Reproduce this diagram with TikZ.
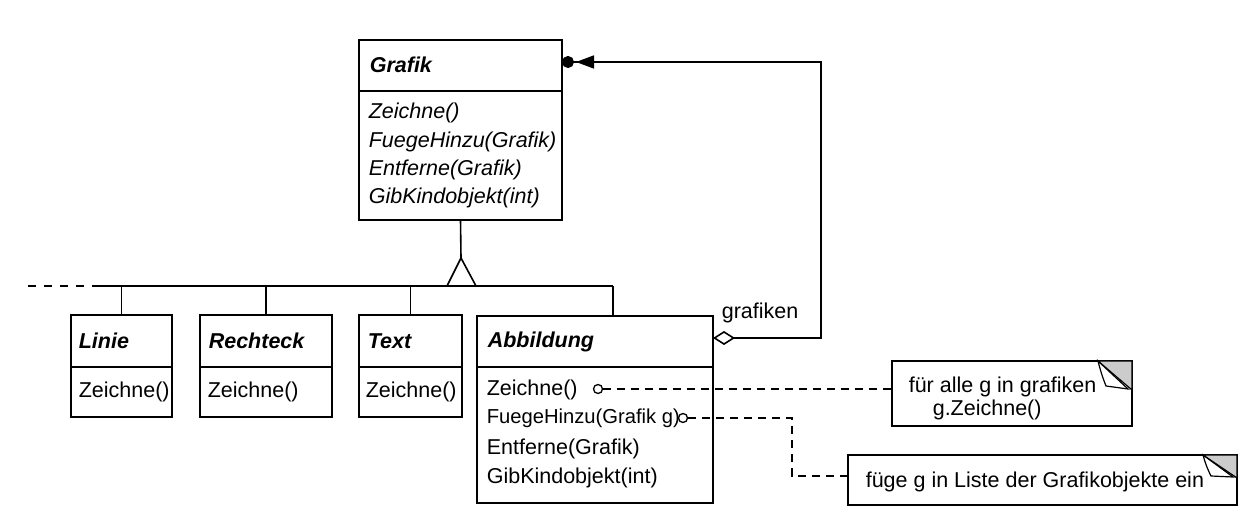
\documentclass[tikz,border=0pt]{standalone}
\usepackage{fontspec}
\setmainfont{Liberation Sans}
\usetikzlibrary{arrows.meta}
\begin{document}
\begin{tikzpicture}[x=1pt,y=-1pt, line width=1.6pt,
 cls/.style={draw, anchor=north west, inner sep=0pt, outer sep=0pt},
 txt/.style={anchor=west, inner sep=0pt, font=\fontsize{21.5}{26}\selectfont},
 ntxt/.style={anchor=west, inner sep=0pt, font=\fontsize{20.2}{26}\selectfont},
 ttl/.style={anchor=west, inner sep=0pt, font=\fontsize{21.5}{26}\selectfont\bfseries\itshape},
 itxt/.style={anchor=west, inner sep=0pt, font=\fontsize{21.5}{26}\selectfont\itshape},
 notebox/.style={draw, anchor=north west, inner sep=0pt, outer sep=0pt},
 dsh/.style={dash pattern=on 8pt off 6pt, line width=1.4pt},
 pin/.style={circle, draw, fill=white, inner sep=0pt, minimum size=9pt, line width=1.3pt},
 ear/.style={fill=black!20, draw, line width=1.2pt},
 flap/.style={fill=white, draw, line width=1.2pt}]
\useasboundingbox (0,0) rectangle (1254,526);

% class boxes
\node[cls, minimum width=203pt, minimum height=180pt] (grafik) at (359,40) {};
\node[cls, minimum width=101pt, minimum height=102pt] (linie) at (71,315) {};
\node[cls, minimum width=132pt, minimum height=102pt] (rechteck) at (200,315) {};
\node[cls, minimum width=103pt, minimum height=102pt] (textc) at (359,315) {};
\node[cls, minimum width=236pt, minimum height=187pt] (abb) at (477,316) {};

% separators
\draw (grafik.west |- 0,91) -- (grafik.east |- 0,91);
\draw (linie.west |- 0,367) -- (linie.east |- 0,367);
\draw (rechteck.west |- 0,367) -- (rechteck.east |- 0,367);
\draw (textc.west |- 0,367) -- (textc.east |- 0,367);
\draw (abb.west |- 0,367) -- (abb.east |- 0,367);

% titles
\node[ttl] (tgrafik) at (369,65) {Grafik};
\node[ttl] (tlinie) at (78,341) {Linie};
\node[ttl] (trechteck) at (208,341) {Rechteck};
\node[ttl] (ttext) at (367,341) {Text};
\node[ttl] (tabb) at (487,342) {Abbildung};

% methods
\node[itxt] (g1) at (368,113) {Zeichne()};
\node[itxt] (g2) at (368,142) {FuegeHinzu(Grafik)};
\node[itxt] (g3) at (368,170) {Entferne(Grafik)};
\node[itxt] (g4) at (368,198) {GibKindobjekt(int)};
\node[txt] (l1) at (78,392) {Zeichne()};
\node[txt] (r1) at (207,392) {Zeichne()};
\node[txt] (x1) at (365,392) {Zeichne()};
\node[txt] (a1) at (486,390) {Zeichne()};
\node[ntxt] (a2) at (486,418) {FuegeHinzu(Grafik g)};
\node[txt] (a3) at (486,449) {Entferne(Grafik)};
\node[txt] (a4) at (486,478) {GibKindobjekt(int)};

% inheritance
\coordinate (apex) at (461,258);
\coordinate (triL) at (447,286);
\coordinate (triR) at (476,286);
\coordinate (busL) at (100,286);
\coordinate (busD) at (28,286);
\coordinate (busR) at (613,286);
\draw (grafik.south) -- (apex);
\draw[line join=miter] (apex) -- (triL) -- (triR) -- cycle;
\draw (busL) -- (busR);
\draw[dash pattern=on 8pt off 8pt, line width=1.4pt] (busD) -- (busL);
\draw (linie.north |- busL) -- (linie.north);
\draw (rechteck.north |- busL) -- (rechteck.north);
\draw (textc.north |- busL) -- (textc.north);
\draw (busR) -- (abb.north -| busR);

% association grafiken
\coordinate (c1) at (821,338);
\coordinate (c2) at (821,62);
\draw[{Diamond[open,length=22pt,width=14pt]}-{Triangle[length=18pt,width=13pt,sep=2pt] Circle[length=12pt]}]
  (abb.east |- c1) -- (c1) -- (c2) -- (grafik.east |- c2);
\node[txt] (lbl) at (721,313) {grafiken};

% notes
\node[notebox, minimum width=240pt, minimum height=65pt] (n1) at (892,361) {};
\node[notebox, minimum width=389pt, minimum height=50pt] (n2) at (848,455) {};
\node[txt] (n1a) at (908,387) {für alle g in grafiken};
\node[txt] (n1b) at (932,410) {g.Zeichne()};
\node[txt] (n2a) at (865,482) {füge g in Liste der Grafikobjekte ein};

% dog ears
\draw[ear] (1098,361) -- (n1.north east) -- (1132,390) -- cycle;
\draw[flap] (1098,361) .. controls (1101,373) and (1104,381) .. (1106,386) -- (1128,389) -- cycle;
\draw[ear] (1203,455) -- (n2.north east) -- (1237,478) -- cycle;
\draw[flap] (1203,455) .. controls (1206,466) and (1209,472) .. (1211,476) -- (1233,477) -- cycle;

% note links
\node[pin] (p1) at (598,389) {};
\node[pin] (p2) at (683,418) {};
\coordinate (k1) at (792,418);
\coordinate (k2) at (792,476);
\draw[dsh] (p1.east) -- (n1.west |- p1);
\draw[dsh] (p2.east) -- (k1) -- (k2) -- (n2.west |- k2);
\end{tikzpicture}
\end{document}
